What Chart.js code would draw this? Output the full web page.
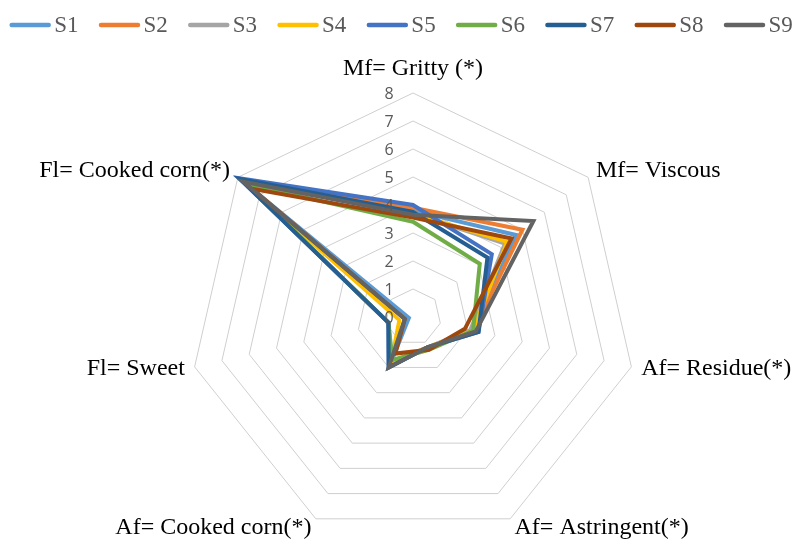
<!DOCTYPE html>
<html>
<head>
<meta charset="utf-8">
<script src="https://cdn.jsdelivr.net/npm/chart.js@4"></script>
<style>
  body { margin: 0; background: #fff; }
  #wrap { width: 802px; height: 542px; position: relative; }
</style>
</head>
<body>
<div id="wrap"><canvas id="myChart"></canvas></div>
<script>
// Axis labels (clockwise from the top)
var axisLabels = [
  "Mf= Gritty (*)",
  "Mf= Viscous",
  "Af= Residue(*)",
  "Af= Astringent(*)",
  "Af= Cooked corn(*)",
  "Fl= Sweet",
  "Fl= Cooked corn(*)"
];

// Sample scores, same order as axisLabels
var s1 = [3.8, 4.7, 2.2, 1.2, 1.9, 0.15, 7.9];
var s2 = [3.9, 5.0, 2.2, 1.2, 1.8, 0.9, 7.8];
var s3 = [3.7, 4.2, 2.1, 1.2, 1.8, 0.9, 7.8];
var s4 = [3.7, 4.3, 2.2, 1.2, 1.8, 0.5, 7.8];
var s5 = [4.0, 3.6, 2.4, 1.2, 2.0, 0.9, 7.95];
var s6 = [3.4, 3.05, 2.2, 1.3, 1.7, 0.9, 7.6];
var s7 = [3.75, 3.4, 2.4, 1.2, 2.0, 0.9, 7.9];
var s8 = [3.55, 4.5, 1.9, 1.3, 1.45, 0.3, 7.35];
var s9 = [3.65, 5.5, 2.3, 1.2, 2.0, 0.3, 7.75];

var seriesNames = ["S1", "S2", "S3", "S4", "S5", "S6", "S7", "S8", "S9"];
var seriesData = [s1, s2, s3, s4, s5, s6, s7, s8, s9];
var seriesColors = ["#5B9BD5", "#ED7D31", "#A5A5A5", "#FFC000", "#4472C4",
                    "#70AD47", "#255E91", "#9E480E", "#636363"];

var tickValues = [0, 1, 2, 3, 4, 5, 6, 7, 8];

var serif = "'Liberation Serif', 'Times New Roman', serif";

// put the radar where it sits in the picture (center from chart area)
var placeRadar = {
  id: "placeRadar",
  afterLayout: function (chart) {
    var s = chart.scales.r;
    var a = chart.chartArea;
    s.xCenter = (a.left + a.right) / 2;
    s.yCenter = (a.top + a.bottom) / 2;
    s.drawingArea = Math.min(a.right - a.left, a.bottom - a.top) / 2;
  }
};

// tick numbers, axis names and the legend
var extras = {
  id: "extras",
  afterDraw: function (chart) {
    var ctx = chart.ctx;
    var s = chart.scales.r;
    ctx.save();

    // tick labels, left of the top axis
    ctx.fillStyle = "#595959";
    ctx.font = "16px 'Open Sans', 'Liberation Sans', sans-serif";
    ctx.textAlign = "center";
    ctx.textBaseline = "middle";
    tickValues.forEach(function (v) {
      var y = s.yCenter - s.getDistanceFromCenterForValue(v);
      ctx.fillText(String(v), s.xCenter - 24, y + 1);
    });

    // axis names
    ctx.fillStyle = "#000";
    ctx.font = "24px " + serif;
    axisLabels.forEach(function (lab, i) {
      var p = s.getPointPosition(i, s.drawingArea + 10);
      if (Math.abs(p.x - s.xCenter) < 1) {
        ctx.textAlign = "center";
        ctx.textBaseline = "bottom";
        ctx.fillText(lab, p.x, p.y - 2);
      } else {
        ctx.textAlign = p.x > s.xCenter ? "left" : "right";
        ctx.textBaseline = "middle";
        ctx.fillText(lab, p.x, p.y);
      }
    });

    // legend
    ctx.font = "23px " + serif;
    ctx.textAlign = "left";
    ctx.textBaseline = "middle";
    var lineLen = 42, gap = 3, spacing = 20;
    var widths = seriesNames.map(function (n) {
      return lineLen + gap + ctx.measureText(n).width;
    });
    var total = widths.reduce(function (a, b) { return a + b; }, 0) + spacing * (seriesNames.length - 1);
    var x = (chart.width - total) / 2;
    var y = 25;
    seriesNames.forEach(function (n, i) {
      ctx.strokeStyle = seriesColors[i];
      ctx.lineWidth = 4.5;
      ctx.lineCap = "round";
      ctx.beginPath();
      ctx.moveTo(x + 2.5, y);
      ctx.lineTo(x + lineLen - 2.5, y);
      ctx.stroke();
      ctx.fillStyle = "#595959";
      ctx.fillText(n, x + lineLen + gap, y + 1);
      x += widths[i] + spacing;
    });
    ctx.restore();
  }
};

// S9 drawn last (on top), like the original
var datasets = seriesNames.map(function (name, i) {
  return {
    label: name,
    data: seriesData[i],
    borderColor: seriesColors[i],
    backgroundColor: seriesColors[i],
    borderWidth: 4,
    fill: false,
    pointRadius: 0,
    pointHoverRadius: 0,
    tension: 0,
    order: seriesNames.length - i
  };
});

var ctx = document.getElementById("myChart").getContext("2d");
var chart = new Chart(ctx, {
  type: "radar",
  data: {
    labels: axisLabels,
    datasets: datasets
  },
  options: {
    responsive: true,
    maintainAspectRatio: false,
    animation: false,
    layout: {
      padding: { top: 93, bottom: 1, left: 24, right: 0 }
    },
    plugins: {
      legend: { display: false },
      tooltip: { enabled: false }
    },
    scales: {
      r: {
        min: 0,
        max: 8,
        ticks: { stepSize: 1, display: false },
        grid: { color: "#CFCFCF", lineWidth: 1 },
        angleLines: { display: false },
        pointLabels: { display: false }
      }
    }
  },
  plugins: [placeRadar, extras]
});
</script>
</body>
</html>
